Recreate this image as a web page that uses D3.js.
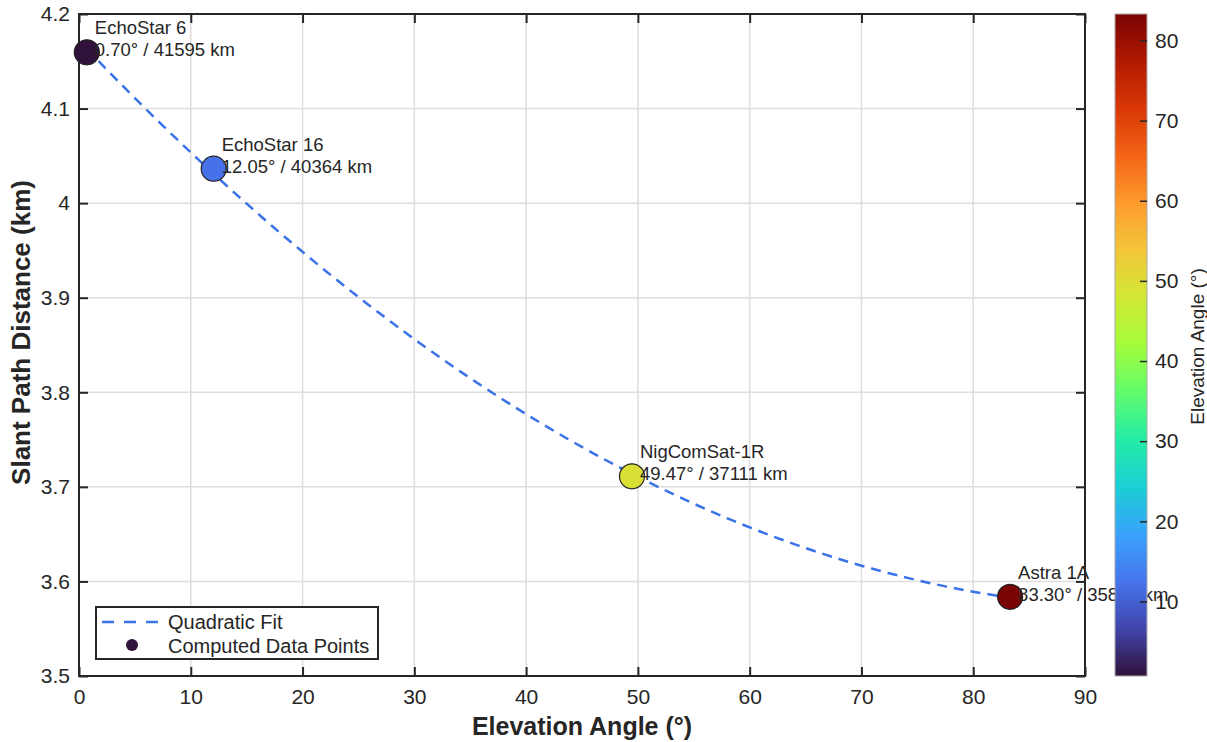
<!DOCTYPE html>
<html>
<head>
<meta charset="utf-8">
<script src="https://cdn.jsdelivr.net/npm/d3@7"></script>
<style>
  body { margin: 0; background: #fff; }
  svg { font-family: "Liberation Sans", Arial, sans-serif; }
</style>
</head>
<body>
<div id="chart"></div>
<script>
// data
var satNames = [ 'EchoStar 6', 'EchoStar 16', 'NigComSat-1R', 'Astra 1A' ];
var elevation = [ 0.70, 12.05, 49.47, 83.30 ];
var slantKm = [ 41595, 40364, 37111, 35837 ];
var xTicks = [ 0, 10, 20, 30, 40, 50, 60, 70, 80, 90 ];
var yTicks = [ 3.5, 3.6, 3.7, 3.8, 3.9, 4.0, 4.1, 4.2 ];
var cbTicks = [ 10, 20, 30, 40, 50, 60, 70, 80 ];

// turbo colormap stops (matlab style)
var turboStops = [ '#30123b', '#4145ab', '#4675ed', '#39a2fc', '#1bcfd4', '#24eca6', '#61fc6c', '#a4fc3b',
	'#d1e834', '#f3c63a', '#fe9b2d', '#f36315', '#d93806', '#b11901', '#7a0403' ];
var turbo = d3.piecewise( d3.interpolateRgb, turboStops );

var points = satNames.map( function ( n, i ) {
	return { name: n, el: elevation[i], km: slantKm[i], y: slantKm[i] / 1e4 };
} );

// least squares quadratic through the points
function quadFit( xs, ys ) {
	var s = [ 0, 0, 0, 0, 0 ], t = [ 0, 0, 0 ];
	xs.forEach( function ( x, i ) {
		for ( var k = 0; k < 5; k++ ) s[k] += Math.pow( x, k );
		for ( var k2 = 0; k2 < 3; k2++ ) t[k2] += Math.pow( x, k2 ) * ys[i];
	} );
	var A = [ [ s[0], s[1], s[2], t[0] ], [ s[1], s[2], s[3], t[1] ], [ s[2], s[3], s[4], t[2] ] ];
	for ( var i = 0; i < 3; i++ ) {
		for ( var j = i + 1; j < 3; j++ ) {
			var f = A[j][i] / A[i][i];
			for ( var k = i; k < 4; k++ ) A[j][k] -= f * A[i][k];
		}
	}
	var c = [ 0, 0, 0 ];
	for ( var i2 = 2; i2 >= 0; i2-- ) {
		var v = A[i2][3];
		for ( var j2 = i2 + 1; j2 < 3; j2++ ) v -= A[i2][j2] * c[j2];
		c[i2] = v / A[i2][i2];
	}
	return function ( x ) { return c[0] + c[1] * x + c[2] * x * x; };
}
var fit = quadFit( elevation, points.map( function ( d ) { return d.y; } ) );

var W = 1207, H = 742;
var plot = { left: 79, right: 1085, top: 14, bottom: 676 };
var ink = '#262626';

var svg = d3.select( '#chart' ).append( 'svg' ).attr( 'width', W ).attr( 'height', H );

var x = d3.scaleLinear().domain( [ 0, 90 ] ).range( [ plot.left, plot.right ] );
var y = d3.scaleLinear().domain( [ 3.5, 4.2 ] ).range( [ plot.bottom, plot.top ] );
var cmin = d3.min( elevation ), cmax = d3.max( elevation );
var color = d3.scaleSequential( turbo ).domain( [ cmin, cmax ] );

// grid
svg.append( 'g' ).selectAll( 'line' ).data( xTicks ).enter().append( 'line' )
	.attr( 'x1', x ).attr( 'x2', x ).attr( 'y1', plot.top ).attr( 'y2', plot.bottom )
	.style( 'stroke', '#dedede' ).style( 'stroke-width', 1.5 );
svg.append( 'g' ).selectAll( 'line' ).data( yTicks ).enter().append( 'line' )
	.attr( 'y1', y ).attr( 'y2', y ).attr( 'x1', plot.left ).attr( 'x2', plot.right )
	.style( 'stroke', '#dedede' ).style( 'stroke-width', 1.5 );

// axes
function styleAxis( g, hideText ) {
	g.select( '.domain' ).remove();
	g.selectAll( '.tick line' ).style( 'stroke', ink ).style( 'stroke-width', 2 );
	g.selectAll( '.tick text' ).style( 'font-size', '21px' ).style( 'fill', ink );
	if ( hideText ) g.selectAll( '.tick text' ).remove();
}
svg.append( 'g' ).attr( 'transform', 'translate(0,' + plot.bottom + ')' )
	.call( d3.axisBottom( x ).tickValues( xTicks ).tickSize( -9 ).tickPadding( 13 ) )
	.call( styleAxis, false );
svg.append( 'g' ).attr( 'transform', 'translate(0,' + plot.top + ')' )
	.call( d3.axisTop( x ).tickValues( xTicks ).tickSize( -9 ) )
	.call( styleAxis, true );
svg.append( 'g' ).attr( 'transform', 'translate(' + plot.left + ',0)' )
	.call( d3.axisLeft( y ).tickValues( yTicks ).tickSize( -9 ).tickPadding( 9 ).tickFormat( d3.format( '~g' ) ) )
	.call( styleAxis, false );
svg.append( 'g' ).attr( 'transform', 'translate(' + plot.right + ',0)' )
	.call( d3.axisRight( y ).tickValues( yTicks ).tickSize( -9 ) )
	.call( styleAxis, true );

svg.append( 'rect' )
	.attr( 'x', plot.left ).attr( 'y', plot.top )
	.attr( 'width', plot.right - plot.left ).attr( 'height', plot.bottom - plot.top )
	.style( 'fill', 'none' ).style( 'stroke', ink ).style( 'stroke-width', 2 );

// fit line
var fitX = d3.range( cmin, cmax + 0.001, ( cmax - cmin ) / 100 );
svg.append( 'path' )
	.datum( fitX )
	.attr( 'd', d3.line().x( function ( d ) { return x( d ); } ).y( function ( d ) { return y( fit( d ) ); } ) )
	.style( 'fill', 'none' ).style( 'stroke', '#3a72e8' ).style( 'stroke-width', 2.5 )
	.style( 'stroke-dasharray', '10,7' );

// points
svg.append( 'g' ).selectAll( 'circle' ).data( points ).enter().append( 'circle' )
	.attr( 'cx', function ( d ) { return x( d.el ); } )
	.attr( 'cy', function ( d ) { return y( d.y ); } )
	.attr( 'r', 12.5 )
	.style( 'fill', function ( d ) { return color( d.el ); } )
	.style( 'stroke', '#222' ).style( 'stroke-width', 1.2 );

// labels
var lab = svg.append( 'g' ).selectAll( 'text' ).data( points ).enter().append( 'text' )
	.style( 'font-size', '18.5px' ).style( 'fill', ink );
lab.append( 'tspan' )
	.attr( 'x', function ( d ) { return x( d.el ) + 8; } )
	.attr( 'y', function ( d ) { return y( d.y ) - 18; } )
	.text( function ( d ) { return d.name; } );
lab.append( 'tspan' )
	.attr( 'x', function ( d ) { return x( d.el ) + 8; } )
	.attr( 'y', function ( d ) { return y( d.y ) + 4; } )
	.text( function ( d ) { return d.el.toFixed( 2 ) + '\u00b0 / ' + d.km + ' km'; } );

// axis labels
svg.append( 'text' ).attr( 'x', ( plot.left + plot.right ) / 2 ).attr( 'y', 735 )
	.attr( 'text-anchor', 'middle' ).style( 'font-size', '25px' ).style( 'font-weight', 'bold' )
	.style( 'fill', ink ).text( 'Elevation Angle (\u00b0)' );
svg.append( 'text' ).attr( 'transform', 'translate(30,' + ( 175 + 490 ) / 2 + ') rotate(-90)' )
	.attr( 'text-anchor', 'middle' ).style( 'font-size', '26px' ).style( 'font-weight', 'bold' )
	.style( 'fill', ink ).text( 'Slant Path Distance (km)' );

// legend
var leg = svg.append( 'g' );
leg.append( 'rect' ).attr( 'x', 96 ).attr( 'y', 607 ).attr( 'width', 282 ).attr( 'height', 52 )
	.style( 'fill', '#fff' ).style( 'stroke', ink ).style( 'stroke-width', 2 );
leg.append( 'line' ).attr( 'x1', 102 ).attr( 'x2', 163 ).attr( 'y1', 622 ).attr( 'y2', 622 )
	.style( 'stroke', '#3a72e8' ).style( 'stroke-width', 2.5 ).style( 'stroke-dasharray', '12,10' );
leg.append( 'circle' ).attr( 'cx', 132 ).attr( 'cy', 645 ).attr( 'r', 6 )
	.style( 'fill', color( cmin ) );
leg.append( 'text' ).attr( 'x', 168 ).attr( 'y', 629 ).style( 'font-size', '20px' ).style( 'fill', ink ).text( 'Quadratic Fit' );
leg.append( 'text' ).attr( 'x', 168 ).attr( 'y', 653 ).style( 'font-size', '20px' ).style( 'fill', ink ).text( 'Computed Data Points' );

// colorbar (drawn over the labels)
var cb = { x: 1115, w: 32 };
var cy = d3.scaleLinear().domain( [ cmin, cmax ] ).range( [ plot.bottom, plot.top ] );
var defs = svg.append( 'defs' );
var grad = defs.append( 'linearGradient' ).attr( 'id', 'cbg' )
	.attr( 'x1', 0 ).attr( 'x2', 0 ).attr( 'y1', 1 ).attr( 'y2', 0 );
turboStops.forEach( function ( c, i ) {
	grad.append( 'stop' ).attr( 'offset', i / ( turboStops.length - 1 ) ).attr( 'stop-color', c );
} );
svg.append( 'rect' ).attr( 'x', cb.x ).attr( 'y', plot.top ).attr( 'width', cb.w )
	.attr( 'height', plot.bottom - plot.top ).style( 'fill', 'url(#cbg)' )
	.style( 'stroke', '#aaa' ).style( 'stroke-width', 1 );
var cbAxis = svg.append( 'g' ).attr( 'transform', 'translate(' + ( cb.x + cb.w ) + ',0)' )
	.call( d3.axisRight( cy ).tickValues( cbTicks ).tickSize( -7 ).tickPadding( 8 ) );
cbAxis.select( '.domain' ).remove();
cbAxis.selectAll( '.tick line' ).style( 'stroke', ink ).style( 'stroke-width', 1.5 );
cbAxis.selectAll( '.tick text' ).style( 'font-size', '21px' ).style( 'fill', ink );
svg.append( 'text' ).attr( 'transform', 'translate(1204,' + ( 265 + 428 ) / 2 + ') rotate(-90)' )
	.attr( 'text-anchor', 'middle' ).style( 'font-size', '19px' ).style( 'fill', ink )
	.text( 'Elevation Angle (\u00b0)' );
</script>
</body>
</html>
